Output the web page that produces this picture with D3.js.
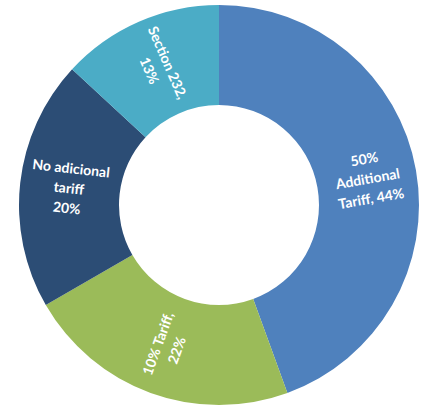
<!DOCTYPE html>
<html>
<head>
<meta charset="utf-8">
<script src="https://cdn.jsdelivr.net/npm/d3@7"></script>
<style>
  body { margin: 0; background: #fff; }
  svg text { font-family: Lato, "Open Sans", sans-serif; font-weight: bold; fill: #fff; }
</style>
</head>
<body>
<svg id="chart" width="425" height="407"></svg>
<script>
// slices, clockwise from 12 o'clock
var categories = ["50% Additional Tariff", "10% Tariff", "No adicional tariff", "Section 232"];
var values = [44, 22, 20, 13];
var labelLines = [
  ["50%", "Additional", "Tariff, 44%"],
  ["10% Tariff,", "22%"],
  ["No adicional", "tariff", "20%"],
  ["Section 232,", "13%"]
];
var colors = ["#4f81bd", "#9bbb59", "#2c4d75", "#4bacc6"];

var cx = 219, cy = 205, outerR = 200, innerR = 100;

var pie = d3.pie().sort(null).value(function(d) { return d; });
var arc = d3.arc().innerRadius(innerR).outerRadius(outerR);
var labelArc = d3.arc().innerRadius(151).outerRadius(151);

var g = d3.select('#chart').append('g')
  .attr('transform', 'translate(' + cx + ',' + cy + ')');

var arcs = pie(values);

// slices
g.selectAll('path')
  .data(arcs)
  .enter().append('path')
  .attr('d', arc)
  .attr('fill', function(d, i) { return colors[i]; });

// labels, turned along the slice
var lab = g.selectAll('.lab')
  .data(arcs)
  .enter().append('text')
  .attr('class', 'lab')
  .attr('font-size', 14)
  .attr('text-anchor', 'middle')
  .attr('transform', function(d) {
    var c = labelArc.centroid(d);
    var mid = (d.startAngle + d.endAngle) / 2 * 180 / Math.PI;
    var rot = mid - 90;
    if (rot > 90) rot -= 180;
    if (rot < -90) rot += 180;
    return 'translate(' + c[0] + ',' + c[1] + ') rotate(' + rot + ')';
  });

lab.each(function(d, i) {
  var lines = labelLines[i];
  var t = d3.select(this);
  lines.forEach(function(s, k) {
    t.append('tspan')
      .attr('x', 0)
      .attr('y', (k - (lines.length - 1) / 2) * 20 + 5)
      .text(s);
  });
});
</script>
</body>
</html>
